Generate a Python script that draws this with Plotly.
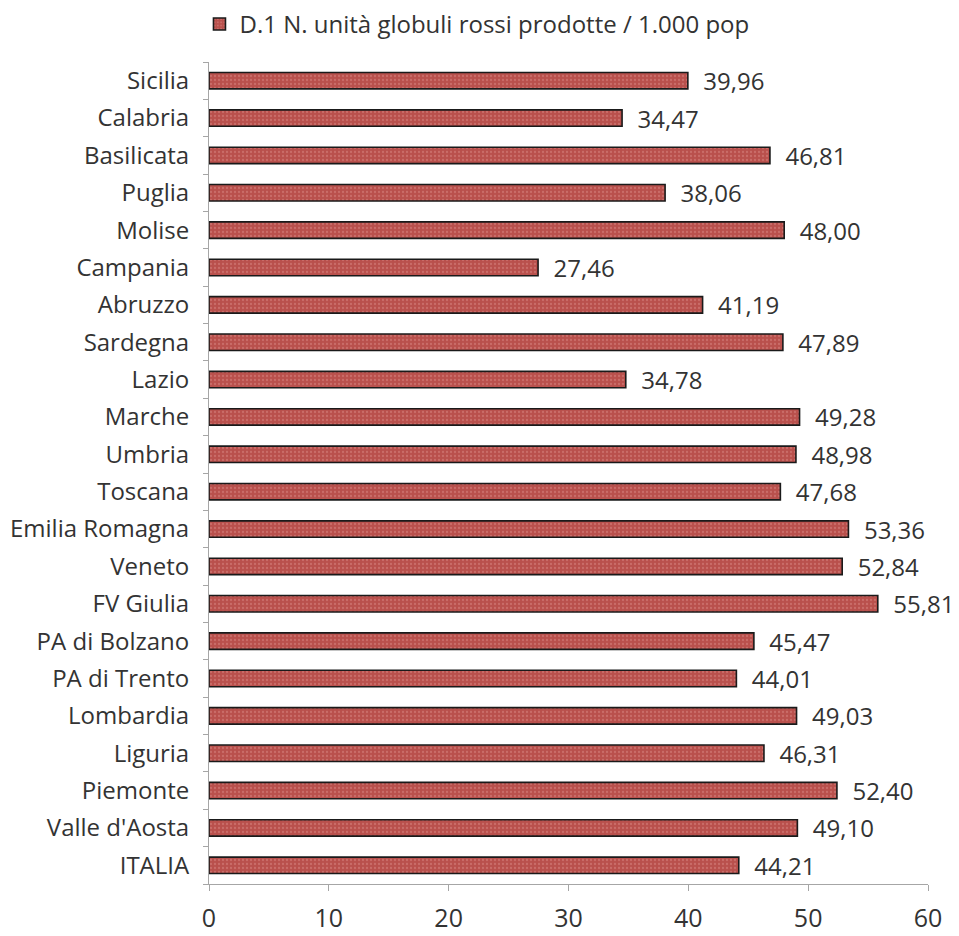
import plotly.graph_objects as go

# Regions listed bottom-to-top so ITALIA sits at the bottom of the chart
regions = ["ITALIA", "Valle d'Aosta", "Piemonte", "Liguria", "Lombardia",
           "PA di Trento", "PA di Bolzano", "FV Giulia", "Veneto",
           "Emilia Romagna", "Toscana", "Umbria", "Marche", "Lazio",
           "Sardegna", "Abruzzo", "Campania", "Molise", "Puglia",
           "Basilicata", "Calabria", "Sicilia"]
units_per_1000 = [44.21, 49.10, 52.40, 46.31, 49.03, 44.01, 45.47, 55.81,
                  52.84, 53.36, 47.68, 48.98, 49.28, 34.78, 47.89, 41.19,
                  27.46, 48.00, 38.06, 46.81, 34.47, 39.96]
series_name = "D.1 N. unità globuli rossi prodotte / 1.000 pop"
x_ticks = [0, 10, 20, 30, 40, 50, 60]

labels = ["  " + f"{v:.2f}".replace(".", ",") for v in units_per_1000]

font_family = "'Open Sans', sans-serif"
text_color = "#333333"

fig = go.Figure(go.Bar(
    y=regions,
    x=units_per_1000,
    orientation="h",
    name=series_name,
    width=0.44,
    marker=dict(
        color="#b9504c",
        line=dict(color="#1a1a1a", width=1.6),
        pattern=dict(shape=".", fgcolor="#d98a86", size=4, solidity=0.25),
    ),
    text=labels,
    textposition="outside",
    constraintext="none",
    cliponaxis=False,
    textfont=dict(family=font_family, size=24, color=text_color),
    showlegend=True,
))

fig.update_layout(
    width=959,
    height=936,
    paper_bgcolor="white",
    plot_bgcolor="white",
    margin=dict(l=209, r=31, t=62, b=52, autoexpand=False),
    font=dict(family=font_family, size=24, color=text_color),
    legend=dict(
        orientation="h",
        xref="container",
        x=0.208, xanchor="left",
        y=0.998, yanchor="top",
        yref="container",
        font=dict(family=font_family, size=24, color=text_color),
        itemwidth=30,
    ),
    bargap=0.5,
)

fig.update_xaxes(
    range=[0, 60],
    tickvals=x_ticks,
    automargin=False,
    showgrid=False,
    zeroline=False,
    showline=True,
    linecolor="#a6a6a6",
    linewidth=1,
    ticks="outside",
    tickcolor="#a6a6a6",
    ticklen=6,
    ticklabelstandoff=6,
    tickfont=dict(size=25),
)
fig.update_yaxes(
    type="category",
    automargin=False,
    showgrid=False,
    showline=True,
    linecolor="#a6a6a6",
    linewidth=1,
    ticks="outside",
    tickson="boundaries",
    tickcolor="#a6a6a6",
    ticklen=5,
    ticklabelstandoff=14,
    tickfont=dict(size=24),
)

fig.write_html("out.html")
